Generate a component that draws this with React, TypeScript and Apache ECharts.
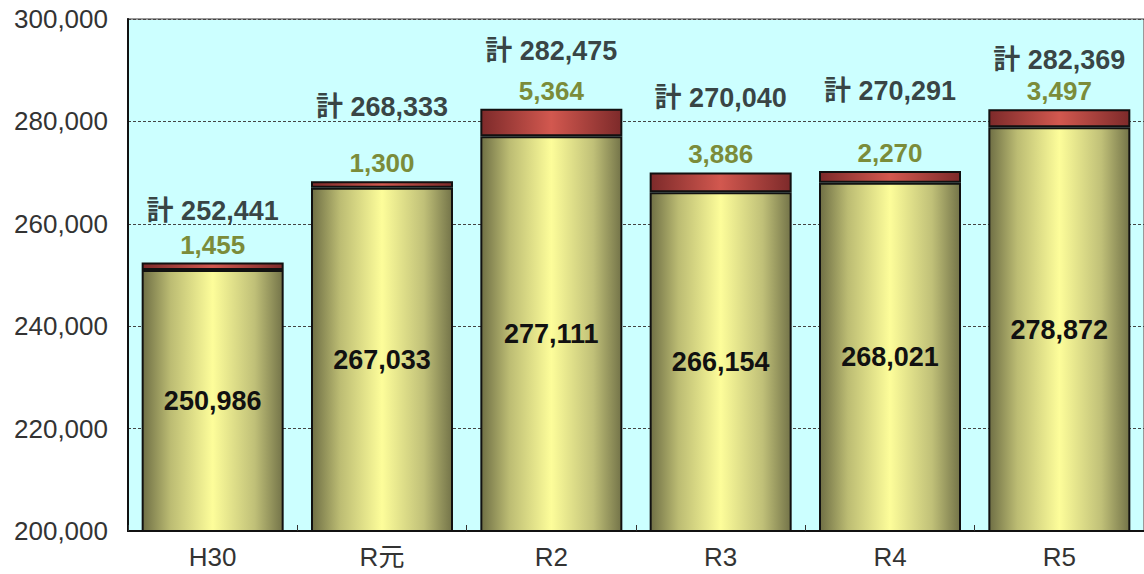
import React, { useEffect, useRef } from "react";
import * as echarts from "echarts";

const categories = ["H30", "R元", "R2", "R3", "R4", "R5"];
const baseValues = [250986, 267033, 277111, 266154, 268021, 278872];
const addValues = [1455, 1300, 5364, 3886, 2270, 3497];
const yTicks = { min: 200000, max: 300000, interval: 20000 };

// label placement (layout only): distance of the total label above the bar top
const totalLabelDistance = [38, 60, 44, 60, 66, 35];

const FONT = "'Liberation Sans', 'Noto Sans CJK JP', sans-serif";
const fmt = (v: number) => v.toLocaleString("en-US");

export default function App() {
  const ref = useRef<HTMLDivElement>(null);
  useEffect(() => {
    if (!ref.current) return;
    const chart = echarts.init(ref.current, undefined, { renderer: "svg" });
    const totals = baseValues.map((v, i) => v + addValues[i]);
    const yellow = new echarts.graphic.LinearGradient(0, 0, 1, 0, [
      { offset: 0, color: "#6f6f45" },
      { offset: 0.2, color: "#bcbc73" },
      { offset: 0.5, color: "#fdfd9a" },
      { offset: 0.8, color: "#c0c078" },
      { offset: 1, color: "#747449" },
    ]);
    const red = new echarts.graphic.LinearGradient(0, 0, 1, 0, [
      { offset: 0, color: "#7d2a2a" },
      { offset: 0.5, color: "#d2584f" },
      { offset: 1, color: "#7d2a2a" },
    ]);
    chart.setOption({
      animation: false,
      grid: {
        left: 128,
        top: 19,
        bottom: 43,
        right: -4,
        show: true,
        backgroundColor: "#ccffff",
        borderColor: "#999",
        borderWidth: 2,
        containLabel: false,
      },
      xAxis: {
        type: "category",
        data: categories,
        axisLine: { show: true, lineStyle: { color: "#111", width: 2 } },
        axisTick: { show: true, inside: true, length: 6, lineStyle: { color: "#333" } },
        axisLabel: { fontSize: 26, color: "#333", fontFamily: FONT, margin: 13 },
      },
      yAxis: {
        type: "value",
        min: yTicks.min,
        max: yTicks.max,
        interval: yTicks.interval,
        axisLine: { show: true, lineStyle: { color: "#111", width: 2 } },
        axisTick: { show: false },
        axisLabel: { fontSize: 26, color: "#333", fontFamily: FONT, margin: 20, formatter: (v: number) => fmt(v) },
        splitLine: { show: true, lineStyle: { color: "#444", type: [3, 2], width: 1 } },
      },
      series: [
        {
          type: "bar",
          stack: "s",
          data: baseValues,
          barWidth: 142,
          itemStyle: { color: yellow, borderColor: "#111", borderWidth: 2 },
          label: {
            show: true,
            position: "inside",
            fontSize: 27,
            fontWeight: "bold",
            color: "#111",
            fontFamily: FONT,
            formatter: (p: any) => fmt(p.value),
          },
        },
        {
          type: "bar",
          stack: "s",
          data: addValues,
          barWidth: 142,
          itemStyle: { color: red, borderColor: "#111", borderWidth: 2 },
          label: {
            show: true,
            position: "top",
            distance: 5,
            fontSize: 26,
            fontWeight: "bold",
            color: "#7b8c3a",
            fontFamily: FONT,
            formatter: (p: any) => fmt(p.value),
          },
        },
        {
          type: "scatter",
          data: totals.map((v, i) => ({
            value: v,
            label: { distance: totalLabelDistance[i] },
          })),
          symbol: "rect",
          symbolSize: 1,
          itemStyle: { color: "rgba(0,0,0,0)" },
          z: 10,
          label: {
            show: true,
            position: "top",
            fontSize: 27,
            fontWeight: "bold",
            color: "#111",
            fontFamily: FONT,
            formatter: (p: any) => "計 " + fmt(p.value),
          },
        },
      ],
    });
    return () => chart.dispose();
  }, []);
  return (
    <div
      ref={ref}
      style={{ position: "fixed", left: 0, top: 0, width: 1144, height: 574, background: "#fff" }}
    />
  );
}
